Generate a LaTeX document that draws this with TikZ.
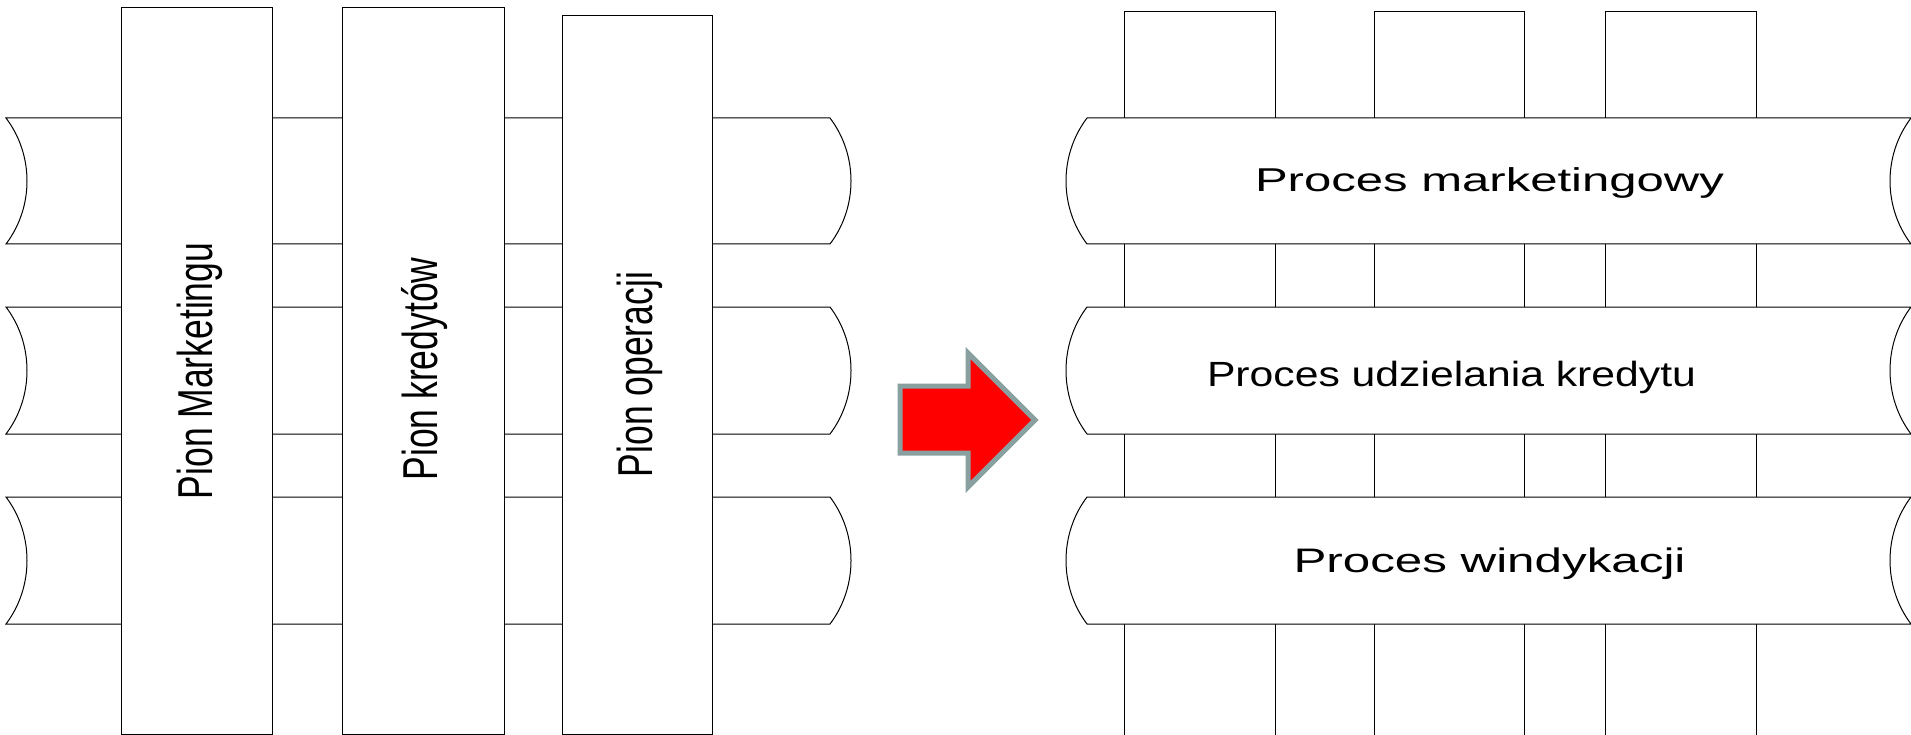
\documentclass[tikz,border=0pt]{standalone}
\usepackage{fontspec}
\setmainfont{Liberation Sans}
\usepackage{graphicx}
\definecolor{arrowgray}{RGB}{137,160,161}
\begin{document}
\begin{tikzpicture}[x=1pt,y=-1pt,
  band/.style={draw=black, fill=white, line width=1pt, line join=miter},
  pion/.style={draw=black, fill=white, line width=1pt},
  vlabel/.style={rotate=90, anchor=base, inner sep=0pt, font=\fontsize{35.5}{40}\selectfont},
  hlabel/.style={anchor=base, inner sep=0pt}]
\useasboundingbox (0,0) rectangle (1911,735);
\clip (0,0) rectangle (1911,735);
% ---------- left: functional divisions ----------
\foreach \yt/\yb in {118/244, 307/434, 497/624}{
  \draw[band] (6,\yt) -- (830,\yt) .. controls +(28,37) and +(28,-37) .. (830,\yb)
     -- (6,\yb) .. controls +(28,-37) and +(28,37) .. (6,\yt) -- cycle;
}
\draw[pion] (121,8) rectangle (272,734);
\draw[pion] (342,8) rectangle (504,734);
\draw[pion] (562,16) rectangle (712,734);
\node[vlabel] (pm) at (212,371) {\scalebox{1}[1.38]{Pion Marketingu}};
\node[vlabel] (pk) at (437,369) {\scalebox{1}[1.38]{Pion kredytów}};
\node[vlabel] (po) at (652,374.5) {\scalebox{1}[1.38]{Pion operacji}};
% ---------- arrow ----------
\draw[line width=5pt, draw=arrowgray, fill=red, line join=miter]
  (900,386) -- (968,386) -- (968,353) -- (1035,420) -- (968,487) -- (968,453) -- (900,453) -- cycle;
% ---------- right: processes ----------
\draw[pion] (1124,12) rectangle (1275,760);
\draw[pion] (1374,12) rectangle (1524,760);
\draw[pion] (1605,12) rectangle (1756,760);
\foreach \yt/\yb in {118/244, 307/434, 497/624}{
  \draw[band] (1087,\yt) -- (1911,\yt) .. controls +(-28,37) and +(-28,-37) .. (1911,\yb)
     -- (1087,\yb) .. controls +(-28,-37) and +(-28,37) .. (1087,\yt) -- cycle;
}
\node[hlabel, font=\fontsize{33}{38}\selectfont] (p1) at (1489.5,191.7) {\resizebox{469pt}{\height}{Proces marketingowy}};
\node[hlabel, font=\fontsize{35}{40}\selectfont] (p2) at (1451.5,386.7) {\resizebox{489pt}{\height}{Proces udzielania kredytu}};
\node[hlabel, font=\fontsize{34}{39}\selectfont] (p3) at (1489.5,572.7) {\resizebox{392pt}{\height}{Proces windykacji}};
\end{tikzpicture}
\end{document}
